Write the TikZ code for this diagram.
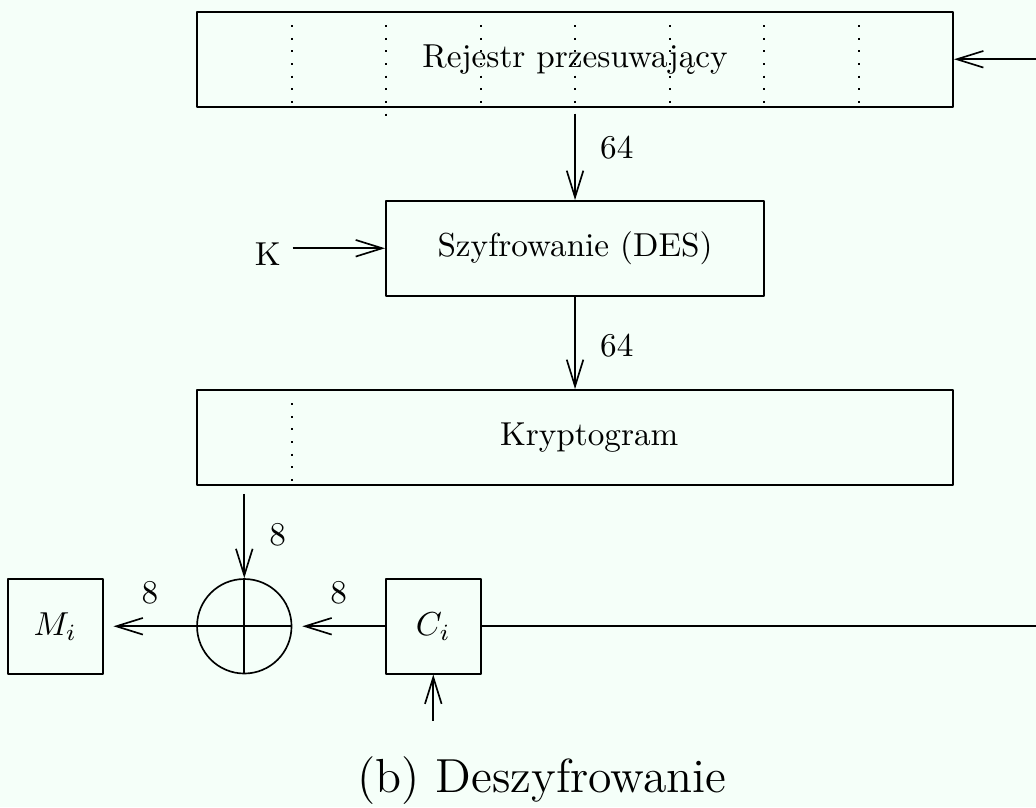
\documentclass[tikz,border=0pt]{standalone}
\usepackage{fontspec}
\usetikzlibrary{arrows.meta}
\definecolor{bgmint}{RGB}{245,255,249}
\tikzset{
  box/.style={draw,line width=0.6pt,inner sep=0pt,minimum height=1cm},
  sep/.style={line width=0.6pt,dash pattern=on 0.6pt off 3.2pt},
  lab/.style={inner sep=0pt}
}
\begin{document}
\begin{tikzpicture}[>={Straight Barb[length=8pt,width=5pt]},line join=round,line width=0.5pt]
		\useasboundingbox[fill=bgmint] (-0.085,0.127) rectangle (10.878,-8.413);
		\node[box,minimum width=8cm] (reg) at (6,-0.5) {Rejestr przesuwający};
		\foreach \i in {3,5,7,8,9} \draw[sep] (\i,-0.14)--(\i,-0.97);
		\foreach \i in {4,6} \draw[sep] (\i,-0.14)--(\i,-1.1);
		\node[box,minimum width=4cm] (enc) at (6,-2.5) {Szyfrowanie (DES)};
		\node (k) at (2.75,-2.56) {K};
		\node[box,minimum width=8cm] (kry) at (6,-4.5) {};
		\node at (6.15,-4.5) {Kryptogram};
		\draw[sep] (3,-4.14)--(3,-4.97);
		\node[box,minimum width=1cm] (m) at (0.5,-6.5) {$M_i$};
		\node[draw,circle,minimum size=1cm,inner sep=0pt] (x) at (2.5,-6.5) {};
		\draw (x.north)--(x.south) (x.west)--(x.east);
		\node[box,minimum width=1cm] (c) at (4.5,-6.5) {$C_i$};
		\coordinate (in) at (10.878,-0.5);
		\coordinate (r) at (6,-1.1);
		\coordinate (kd) at (2.5,-5.1);
		\coordinate (ci) at (4.5,-7.5);
		\coordinate (out) at (10.878,-6.5);
		\draw[->] (in)--(reg.east);
		\draw[->] (r)--(enc.north) node[pos=0.38,right=4pt]{64};
		\draw[->] (k.east |- enc.west)--(enc.west);
		\draw[->] (enc.south)--(kry.north) node[pos=0.53,right=4pt]{64};
		\draw[->] (kd)--(x.north) node[pos=0.48,right=4pt]{8};
		\draw[->,shorten >=3pt] (c.west)--(x.east) node[midway,above=3pt]{8};
		\draw[->,shorten >=3pt] (x.west)--(m.east) node[midway,above=3pt]{8};
		\draw (c.east)--(out);
		\draw[->] (ci)--(c.south);
		\node[font=\Large] (cap) at (5.65,-8.13) {(b) Deszyfrowanie};
\end{tikzpicture}
\end{document}
